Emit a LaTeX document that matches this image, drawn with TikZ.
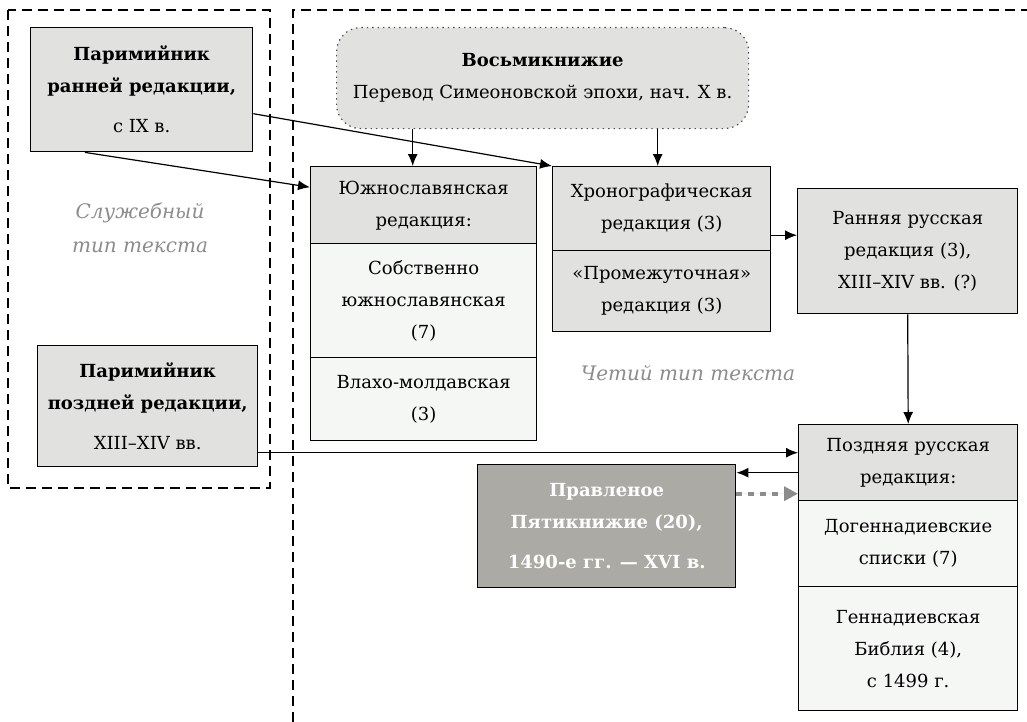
\documentclass[tikz,border=0pt]{standalone}
\usepackage{fontspec}
\setmainfont{DejaVu Serif}
\usetikzlibrary{positioning, arrows.meta, calc}

\definecolor{hdrgray}{RGB}{225,225,223}
\definecolor{subgray}{RGB}{245,247,245}
\definecolor{prvgray}{RGB}{171,170,165}

\begin{document}
\begin{tikzpicture}[x=0.5pt, y=-0.5pt, font=\fontsize{9}{16}\selectfont]
    \tikzstyle{box} = [draw, line width=0.7pt, align=center, inner sep=2pt, text=black];
    \tikzstyle{hdr} = [box, fill=hdrgray];
    \tikzstyle{sub} = [box, fill=subgray];
    \tikzstyle{arr} = [-{Latex[length=6pt, width=5pt]}, line width=0.6pt];
    \tikzstyle{dotarr} = [-{Triangle[length=7pt, width=7pt]}, line width=2pt, draw=black!45, fill=black!45, dash pattern=on 3pt off 3pt];
    \tikzstyle{frame} = [dash pattern=on 5pt off 3pt, line width=0.6pt];
    \tikzstyle{note} = [font=\fontsize{10}{17}\selectfont\itshape, text=black!45, align=center];

    \useasboundingbox (0,0) rectangle (1027,722);

    % dashed frames
    \draw[frame] (8,10) rectangle (270,488);
    \draw[frame] (293,722) -- (293,10) -- (1027,10);

    \node[hdr, anchor=north west, minimum width=111pt, minimum height=62pt] (P1) at (30,27)
        {\textbf{Паримийник}\\\textbf{ранней редакции,}\\[4pt]с IX в.};
    \node[hdr, anchor=north west, minimum width=110pt, minimum height=60.5pt] (P2) at (37,345)
        {\textbf{Паримийник}\\\textbf{поздней редакции,}\\[4pt]XIII–XIV~вв.};

    \node[hdr, rounded corners=12pt, dotted, draw=black!70, line width=0.6pt, anchor=north west,
        minimum width=206pt, minimum height=50.5pt] (V) at (336,27)
        {\textbf{Восьмикнижие}\\Перевод Симеоновской эпохи, нач. X в.};

    \node[hdr, anchor=north west, minimum width=113pt, minimum height=38.5pt] (Yu) at (310,166)
        {Южнославянская\\редакция:};
    \node[sub, below=-0.7pt of Yu, minimum width=113pt, minimum height=57pt] (Yu1)
        {Собственно\\южнославянская\\(7)};
    \node[sub, below=-0.7pt of Yu1, minimum width=113pt, minimum height=41.5pt] (Yu2)
        {Влахо-молдавская\\(3)};

    \node[hdr, anchor=north west, minimum width=109pt, minimum height=42pt] (Ch) at (552,166)
        {Хронографическая\\редакция (3)};
    \node[hdr, below=-0.7pt of Ch, minimum width=109pt, minimum height=40.5pt] (Ch1)
        {«Промежуточная»\\редакция (3)};

    \node[hdr, anchor=north west, minimum width=110pt, minimum height=62.5pt] (Rr) at (797,188)
        {Ранняя русская\\редакция (3),\\XIII–XIV~вв. (?)};

    \node[hdr, anchor=north west, minimum width=109.5pt, minimum height=38pt] (Pz) at (798,424)
        {Поздняя русская\\редакция:};
    \node[sub, below=-0.7pt of Pz, minimum width=109.5pt, minimum height=43pt] (Pz1)
        {Догеннадиевские\\списки (7)};
    \node[sub, below=-0.7pt of Pz1, minimum width=109.5pt, minimum height=62pt] (Pz2)
        {Геннадиевская\\Библия (4),\\с 1499 г.};

    \node[box, fill=prvgray, text=white, font=\fontsize{9}{16}\selectfont\bfseries,
        anchor=north west, minimum width=129pt, minimum height=61.5pt] (Pp) at (477,464)
        {Правленое\\Пятикнижие (20),\\[4pt]1490-е гг. — XVI в.};

    \node[note] (N1) at (140,228) {Служебный\\тип текста};
    \node[note] (N2) at (688,373) {Четий тип текста};

    \draw[arr] ([xshift=-5.5pt]V.south -| Yu.north) -- ([xshift=-5.5pt]Yu.north);
    \draw[arr] ([xshift=-2pt]V.south -| Ch.north) -- ([xshift=-2pt]Ch.north);
    \draw[arr] ([yshift=-12pt]P1.east) -- (Ch.north west);
    \draw[arr] ([xshift=27.5pt]P1.south west) -- ([yshift=9pt]Yu.west);
    \draw[arr] ([yshift=8pt]Rr.west -| Ch.east) -- ([yshift=8pt]Rr.west);
    \draw[arr] (Rr.south) -- (Pz.north);
    \draw[arr] ([yshift=5pt]Pz.west -| P2.east) -- ([yshift=5pt]Pz.west);
    \draw[arr] ([yshift=-5pt]Pz.west) -- ([yshift=-5pt]Pz.west -| Pp.east);
    \draw[dotarr] ([yshift=-15.5pt]Pz.west -| Pp.east) -- ([yshift=-15.5pt]Pz.west);
\end{tikzpicture}
\end{document}
